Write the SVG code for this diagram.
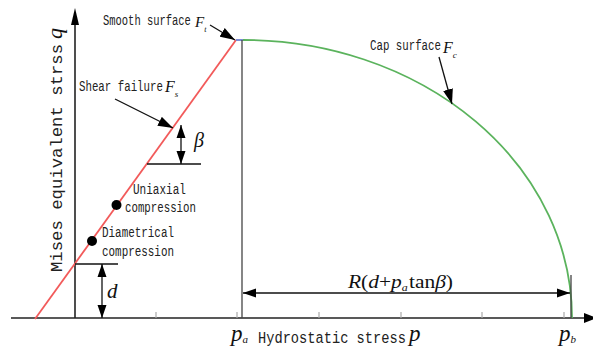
<svg xmlns="http://www.w3.org/2000/svg" width="593" height="348" viewBox="0 0 593 348">
<style>
.lbl{font-family:"Liberation Mono","Courier New",monospace;font-size:15px;fill:#222}
.ax{font-family:"Liberation Mono","Courier New",monospace;font-size:17px;fill:#222}
.it{font-family:"Liberation Serif","Times New Roman",serif;font-style:italic;fill:#111}
.rm{font-family:"Liberation Serif","Times New Roman",serif;fill:#111}
.i{font-style:italic}
.blk{stroke:#111;stroke-width:1.3;fill:none}
.tick{stroke:#aaa;stroke-width:1.2}
</style>
<defs>
<marker id="ah" markerUnits="userSpaceOnUse" markerWidth="16" markerHeight="10" refX="15" refY="5" orient="auto-start-reverse" viewBox="0 0 16 10">
<path d="M0,0 L15,5 L0,10 z" fill="#000"/>
</marker>
<marker id="ad" markerUnits="userSpaceOnUse" markerWidth="14" markerHeight="10" refX="13" refY="5" orient="auto-start-reverse" viewBox="0 0 14 10">
<path d="M0,0.5 L13,5 L0,9.5 z" fill="#000"/>
</marker>
</defs>

<g id="axes">
<line x1="11" y1="318" x2="586" y2="318" stroke="#222" stroke-width="1.6"/>
<path d="M584,313 L597,318 L584,323 z" fill="#000"/>
<line x1="75" y1="318" x2="75" y2="22" stroke="#222" stroke-width="1.6"/>
<path d="M71,25 L75,8 L79,25 z" fill="#000"/>
<g class="tick">
<line x1="156" y1="312" x2="156" y2="318"/>
<line x1="237" y1="312" x2="237" y2="318"/>
<line x1="319" y1="312" x2="319" y2="318"/>
<line x1="401" y1="312" x2="401" y2="318"/>
<line x1="482" y1="312" x2="482" y2="318"/>
<line x1="564" y1="312" x2="564" y2="318"/>
</g>
</g>

<g id="yield-surface">
<line x1="35" y1="319" x2="236" y2="40" stroke="#f25a5a" stroke-width="1.8"/>
<line x1="236" y1="40" x2="243" y2="40" stroke="#6d7fd0" stroke-width="1.8"/>
<path d="M243,40 A329,278 0 0 1 572,318" fill="none" stroke="#5bb35d" stroke-width="1.8"/>
</g>

<g id="guides">
<line x1="242" y1="40" x2="242" y2="318" stroke="#444" stroke-width="1.3"/>
<line x1="571" y1="275" x2="571" y2="318" stroke="#444" stroke-width="1.3"/>
<line x1="75" y1="264" x2="118" y2="264" class="blk"/>
<line x1="147" y1="164" x2="201" y2="164" class="blk"/>
</g>

<g id="connectors">
<line x1="210" y1="25" x2="235" y2="40" class="blk" marker-end="url(#ah)"/>
<line x1="115" y1="99" x2="173" y2="128" class="blk" marker-end="url(#ah)"/>
<line x1="439" y1="57" x2="452" y2="104" class="blk" marker-end="url(#ah)"/>
<line x1="181" y1="125" x2="181" y2="164" class="blk" marker-start="url(#ad)" marker-end="url(#ad)"/>
<line x1="102" y1="264" x2="102" y2="318" class="blk" marker-start="url(#ad)" marker-end="url(#ad)"/>
<line x1="243" y1="293" x2="570" y2="293" class="blk" marker-start="url(#ad)" marker-end="url(#ad)"/>
</g>

<g id="point-uniaxial">
<circle cx="116.5" cy="205" r="5" fill="#000"/>
<text class="lbl" transform="translate(133,194) scale(0.736,1)">Uniaxial</text>
<text class="lbl" transform="translate(125,212) scale(0.717,1)">compression</text>
</g>

<g id="point-diametrical">
<circle cx="92" cy="241" r="5" fill="#000"/>
<text class="lbl" transform="translate(102,237) scale(0.727,1)">Diametrical</text>
<text class="lbl" transform="translate(102,256) scale(0.727,1)">compression</text>
</g>

<g id="label-smooth">
<text class="lbl" transform="translate(103,25) scale(0.698,1)">Smooth surface</text>
<text class="it" x="195" y="27" font-size="15">F<tspan font-size="8" dy="5">t</tspan></text>
</g>

<g id="label-shear">
<text class="lbl" transform="translate(79,91) scale(0.718,1)">Shear failure</text>
<text class="it" x="165" y="92" font-size="16">F<tspan font-size="9" dy="5">s</tspan></text>
</g>

<g id="label-cap">
<text class="lbl" transform="translate(370,50) scale(0.717,1)">Cap surface</text>
<text class="it" x="443" y="53" font-size="16">F<tspan font-size="9" dy="5">c</tspan></text>
</g>

<g id="label-beta">
<text class="it" x="194" y="147" font-size="20">β</text>
</g>

<g id="label-d">
<text class="it" x="107" y="298" font-size="21">d</text>
</g>

<g id="label-R">
<text class="rm" x="348" y="288" font-size="18" textLength="105" lengthAdjust="spacingAndGlyphs"><tspan class="i">R</tspan>(<tspan class="i">d</tspan>+<tspan class="i">p</tspan><tspan class="i" font-size="10" dy="3">a</tspan><tspan dy="-3" dx="1">tan</tspan><tspan class="i">β</tspan>)</text>
</g>

<g id="label-x">
<text class="it" x="231" y="341" font-size="23">p<tspan font-size="11" dy="2">a</tspan></text>
<text class="ax" transform="translate(258,343) scale(0.806,1)">Hydrostatic stress</text>
<text class="it" x="409" y="341" font-size="23">p</text>
<text class="it" x="559" y="341" font-size="23">p<tspan font-size="11" dy="2">b</tspan></text>
</g>

<g id="label-y" transform="translate(62,272) rotate(-90)">
<text class="ax" x="0" y="0" textLength="228" lengthAdjust="spacingAndGlyphs">Mises equivalent strss</text>
<text class="it" x="233" y="0" font-size="22">q</text>
</g>
</svg>
